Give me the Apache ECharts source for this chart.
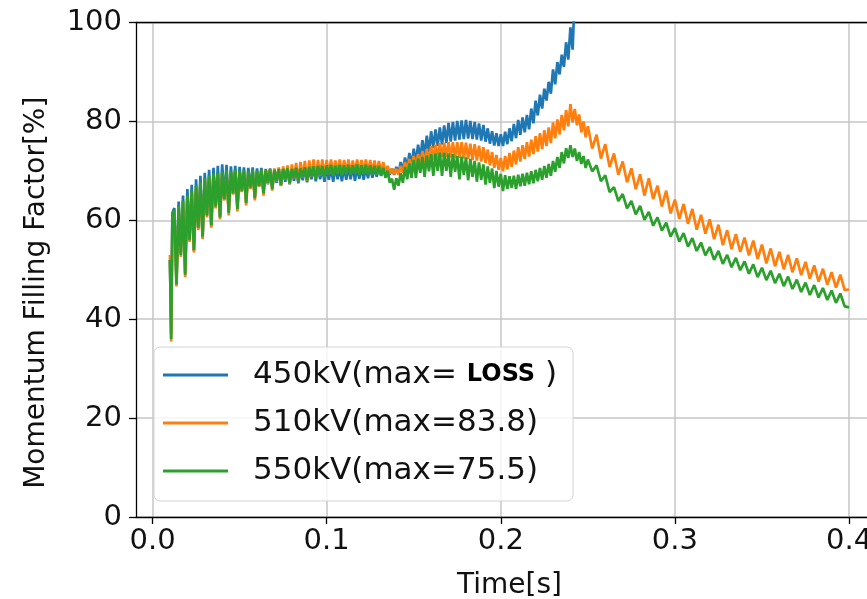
<!DOCTYPE html>
<html><head><meta charset="utf-8">
<script src="https://cdn.jsdelivr.net/npm/echarts@6/dist/echarts.min.js"></script>
<style>html,body{margin:0;padding:0;background:#fff}#c{width:867px;height:599px}</style>
</head><body><div id="c"></div>
<script>
// sample times [s]
const TIME = [
0.0100,0.0107,0.0114,
0.0125,0.01375,0.0150,0.01625,0.0175,0.01875,0.0200,0.02125,0.0225,0.02375,
0.0250,0.02625,0.0275,0.02875,0.0300,0.03125,0.0325,0.03375,0.0350,0.03625,
0.0375,0.03875,0.0400,0.04125,0.0425,0.04375,0.0450,0.04625,0.0475,0.04875,
0.0500,0.05125,0.0525,0.05375,0.0550,0.05625,0.0575,0.05875,0.0600,0.06125,
0.0625,0.06375,0.0650,0.06625,0.0675,0.06875,0.0700,0.07125,0.0725,0.07375,
0.0750,0.07625,0.0775,0.07875,0.0800,0.08125,0.0825,0.08375,0.0850,0.08625,
0.0875,0.08875,0.0900,0.09125,0.0925,0.09375,0.0950,0.09625,0.0975,0.09875,
0.1000,0.10125,0.1025,0.10375,0.1050,0.10625,0.1075,0.10875,0.1100,0.11125,
0.1125,0.11375,0.1150,0.11625,0.1175,0.11875,0.1200,0.12125,0.1225,0.12375,
0.1250,0.12625,0.1275,0.12875,0.1300,0.13125,0.1325,0.13375,0.1350,0.13625,
0.1375,0.13875,0.1400,0.14125,0.1425,0.14375,0.1450,0.14625,0.1475,0.14875,
0.1500,0.15125,0.1525,0.15375,0.1550,0.15625,0.1575,0.15875,0.1600,0.16125,
0.1625,0.16375,0.1650,0.16625,0.1675,0.16875,0.1700,0.17125,0.1725,0.17375,
0.1750,0.17625,0.1775,0.17875,0.1800,0.18125,0.1825,0.18375,0.1850,0.18625,
0.1875,0.18875,0.1900,0.19125,0.1925,0.19375,0.1950,0.19625,0.1975,0.19875,
0.2000,0.20125,0.2025,0.20375,0.2050,0.20625,0.2075,0.20875,0.2100,0.21125,
0.2125,0.21375,0.2150,0.21625,0.2175,0.21875,0.2200,0.22125,0.2225,0.22375,
0.2250,0.22625,0.2275,0.22875,0.2300,0.23125,0.2325,0.23375,0.2350,0.23625,
0.2375,0.23875,0.2400,0.24125,0.2425,0.24375,0.2450,0.24625,0.2475,0.24875,
0.2500,
0.2525,0.2550,0.2575,0.2600,0.2625,0.2650,0.2675,0.2700,0.2725,0.2750,
0.2775,0.2800,0.2825,0.2850,0.2875,0.2900,0.2925,0.2950,0.2975,0.3000,
0.3025,0.3050,0.3075,0.3100,0.3125,0.3150,0.3175,0.3200,0.3225,0.3250,
0.3275,0.3300,0.3325,0.3350,0.3375,0.3400,0.3425,0.3450,0.3475,0.3500,
0.3525,0.3550,0.3575,0.3600,0.3625,0.3650,0.3675,0.3700,0.3725,0.3750,
0.3775,0.3800,0.3825,0.3850,0.3875,0.3900,0.3925,0.3950,0.3975,0.4000
];
// 450kV momentum filling factor [%] (beam lost at ~0.241 s)
const V450 = [
52,37,61.5,
62.5,47.5,63.8,53.5,65.0,49.5,66.3,56.0,67.2,53.8,
68.3,58.3,69.0,56.5,69.6,61.0,70.2,58.8,70.6,62.6,
71.0,60.8,71.3,64.2,71.2,61.7,70.9,65.3,71.0,62.5,
70.8,65.8,70.7,63.8,70.6,66.4,70.7,64.8,70.5,66.8,
70.6,65.8,70.4,67.3,70.5,66.6,70.3,67.6,70.4,67.0,
70.3,67.8,70.4,67.3,70.2,68.0,70.5,67.5,70.4,68.1,
70.6,67.7,70.5,68.3,70.7,67.9,70.8,68.3,70.6,67.8,
70.8,68.2,70.7,67.8,70.9,68.3,70.6,67.9,70.8,68.2,
70.7,68.3,70.9,68.0,70.6,68.4,70.8,68.2,70.7,68.5,
70.9,68.6,70.7,68.8,70.8,69.0,70.7,69.2,70.5,69.2,
70.5,69.2,70.8,69.4,71.8,69.9,72.7,70.3,73.6,71.0,
74.5,71.6,75.3,72.3,76.2,73.0,77.1,73.8,78.0,74.6,
78.4,75.0,78.8,75.3,79.2,75.6,79.7,75.9,79.9,76.1,
80.1,76.3,80.2,76.4,80.3,76.5,80.1,76.4,79.9,76.3,
79.6,76.1,79.3,75.9,78.6,75.5,78.0,75.1,77.6,75.0,
77.4,75.0,77.9,75.4,78.6,76.0,79.5,76.6,80.3,77.3,
80.8,77.8,81.3,78.4,82.6,79.6,84.2,81.2,85.4,82.6,
86.6,84.2,88.0,85.6,90.5,87.5,92.0,89.5,93.5,91.0,
96.0,92.5,99.0,94.5,106
];
// 510kV
const V510 = [
53,35.5,60,
61.7,46.6,62.7,52.6,63.7,48.5,64.7,55.6,65.7,53.5,
66.7,58.0,67.5,56.2,68.2,60.6,68.7,58.5,69.1,62.4,
69.3,60.2,69.5,64.0,69.7,61.0,69.7,65.2,69.9,61.8,
69.8,65.7,69.9,63.0,69.7,66.3,69.9,64.0,69.9,66.8,
70.1,65.0,70.2,67.4,70.4,66.0,70.5,67.9,70.7,66.9,
70.9,68.2,71.1,67.3,71.3,68.5,71.6,67.7,71.8,68.7,
72.0,68.0,72.1,68.9,72.3,68.5,72.2,69.1,72.3,68.8,
72.2,69.4,72.3,69.2,72.1,69.6,72.3,69.3,72.2,69.6,
72.3,69.5,72.1,69.7,72.3,69.5,72.2,69.7,72.3,69.6,
72.2,69.7,72.1,69.6,72.0,69.7,71.8,69.6,71.0,69.4,
70.5,69.3,70.4,69.2,71.0,69.6,71.8,70.0,72.4,70.3,
73.0,70.6,73.4,71.0,74.0,71.5,74.4,71.9,75.0,72.3,
75.3,72.5,75.6,72.8,75.7,72.8,75.8,72.7,75.8,72.6,
75.8,72.6,75.8,72.5,75.7,72.4,75.5,72.2,75.4,72.1,
75.1,71.9,74.8,71.6,74.3,71.1,73.8,70.6,73.2,70.2,
72.6,69.9,73.0,70.3,73.6,70.8,74.1,71.3,74.8,71.9,
75.2,72.4,75.8,72.9,76.3,73.4,77.0,73.9,77.6,74.4,
78.2,75.0,78.8,75.6,79.8,76.6,80.4,77.4,81.3,78.2,
82.3,79.0,83.5,79.8,82.5,79.2,81.4,77.8,80.0,76.8,
79.0,
74.5,77.3,72.5,75.4,70.8,73.5,69.2,71.9,67.7,70.5,
66.3,69.3,65.0,68.5,64.3,67.0,62.8,66.0,61.4,64.2,
60.3,63.3,59.3,62.3,58.1,61.1,57.3,60.2,56.2,59.1,
55.0,58.0,54.2,57.2,53.6,56.5,52.9,55.9,52.2,55.1,
51.3,54.3,50.7,53.6,50.1,53.0,49.5,52.3,48.9,51.6,
48.2,50.9,47.6,50.2,47.0,49.5,46.4,49.0,45.9,46.0
];
// 550kV
const V550 = [
52,36,61,
62.0,47.0,63.0,53.0,64.0,49.0,65.0,56.0,66.0,54.0,
67.0,58.5,67.8,56.7,68.5,61.0,69.0,59.0,69.4,62.8,
69.6,60.6,69.8,64.3,70.1,61.5,69.9,65.5,70.2,62.3,
70.0,66.0,70.1,63.5,69.9,66.6,70.2,64.5,70.0,67.0,
70.2,65.5,70.1,67.6,70.3,66.3,70.2,68.0,70.4,67.2,
70.4,68.3,70.5,67.5,70.4,68.6,70.6,67.8,70.5,68.8,
70.7,68.1,70.8,69.0,70.9,68.4,71.0,69.2,71.0,68.6,
71.1,69.3,71.2,69.0,71.0,69.4,71.2,69.1,71.1,69.3,
71.2,69.2,71.1,69.4,71.3,69.2,71.1,69.4,71.2,69.3,
71.1,69.3,71.0,69.2,71.0,69.0,70.6,68.6,70.0,67.6,
68.4,66.2,68.5,67.0,69.5,67.6,70.8,68.3,71.5,68.6,
72.2,68.6,72.5,69.6,72.8,68.8,73.1,69.9,73.4,69.0,
73.5,70.0,73.7,69.0,73.7,70.0,73.5,68.8,73.4,69.8,
73.0,68.3,72.9,69.2,72.7,68.1,72.4,68.8,72.0,67.8,
71.7,68.2,71.3,67.2,70.9,67.6,70.5,66.5,70.0,66.8,
69.4,65.9,69.1,66.3,68.9,66.6,69.0,66.3,69.2,66.9,
69.4,67.0,69.6,67.3,69.9,67.5,70.2,67.9,70.6,68.2,
71.0,68.6,71.4,69.0,72.0,69.8,72.8,70.6,73.8,71.5,
74.6,72.6,75.2,72.8,74.5,72.0,73.8,71.4,73.0,70.6,
72.3,
69.9,71.1,67.9,69.1,65.7,66.7,63.9,65.3,62.4,63.9,
61.2,62.9,60.1,61.7,58.9,60.6,57.9,59.5,56.7,58.4,
55.7,57.4,54.7,56.4,53.8,55.5,52.9,54.6,52.0,53.8,
51.2,53.0,50.5,52.4,49.9,51.7,49.2,51.1,48.5,50.4,
47.9,49.8,47.3,49.2,46.7,48.6,46.1,48.0,45.5,47.4,
44.9,46.9,44.4,46.3,43.9,45.8,43.3,45.2,42.6,42.4
];
const X_TICKS = [0, 0.1, 0.2, 0.3, 0.4];
const Y_TICKS = [0, 20, 40, 60, 80, 100];
const SERIES_NAMES = ['450kV', '510kV', '550kV'];
const LEGEND_TEXT = {
  '450kV': '450kV(max= {b|LOSS} )',
  '510kV': '510kV(max=83.8)',
  '550kV': '550kV(max=75.5)'
};
const COLORS = ['#1f77b4', '#ff7f0e', '#2ca02c'];
const VALUES = [V450, V510, V550];

const FONT = 'DejaVu Sans';
const X_MIN = -0.0095, X_MAX = 0.4195;
function pairs(vals) { return vals.map(function (v, i) { return [TIME[i], v]; }); }

const chart = echarts.init(document.getElementById('c'), null, {renderer: 'canvas'});
chart.setOption({
  animation: false,
  backgroundColor: '#fff',
  grid: {left: 136, top: 22.5, width: 747, height: 494.5, show: false,
         containLabel: false, outerBoundsMode: 'none'},
  xAxis: [{
    type: 'value', min: X_MIN, max: X_MAX,
    name: 'Time[s]', nameLocation: 'middle', nameGap: 53,
    nameTextStyle: {fontFamily: FONT, fontSize: 28, color: '#111', lineHeight: 32},
    axisLine: {show: true, onZero: false, lineStyle: {color: '#000', width: 1.3}},
    axisTick: {show: true, length: 7, inside: false, customValues: X_TICKS,
               lineStyle: {color: '#000', width: 1.3}},
    axisLabel: {customValues: X_TICKS, fontFamily: FONT, fontSize: 29, color: '#111', margin: 10,
                formatter: function (v) { return v.toFixed(1); }},
    splitLine: {show: true, lineStyle: {color: '#c6c6c6', width: 1.5}}
  }, {
    type: 'value', min: X_MIN, max: X_MAX, position: 'top',
    axisLine: {show: true, onZero: false, lineStyle: {color: '#000', width: 1.3}},
    axisTick: {show: false}, axisLabel: {show: false}, splitLine: {show: false}
  }],
  yAxis: {
    type: 'value', min: Y_TICKS[0], max: Y_TICKS[Y_TICKS.length - 1], interval: 20,
    name: 'Momentum Filling Factor[%]', nameLocation: 'middle', nameGap: 84,
    nameTextStyle: {fontFamily: FONT, fontSize: 28, color: '#111', lineHeight: 30, padding: [0, 46, 0, 0]},
    axisLine: {show: true, onZero: false, lineStyle: {color: '#000', width: 1.3}},
    axisTick: {show: true, length: 7, lineStyle: {color: '#000', width: 1.3}},
    axisLabel: {fontFamily: FONT, fontSize: 29, color: '#111', margin: 14},
    splitLine: {show: true, lineStyle: {color: '#c6c6c6', width: 1.5}}
  },
  legend: {
    orient: 'vertical', left: 154, top: 347,
    padding: [10, 16, 12, 9], itemGap: 12,
    itemWidth: 65, itemHeight: 3, icon: 'rect',
    backgroundColor: 'rgba(255,255,255,0.8)', borderColor: '#d4d4d4', borderWidth: 1, borderRadius: 6,
    data: SERIES_NAMES,
    formatter: function (name) { return LEGEND_TEXT[name]; },
    textStyle: {fontFamily: FONT, fontSize: 31, color: '#111', lineHeight: 36, padding: [0, 0, 0, 20],
                rich: {b: {fontFamily: FONT, fontSize: 24, fontWeight: 'bold', color: '#000', lineHeight: 36}}}
  },
  series: SERIES_NAMES.map(function (n, k) {
    return {
      name: n, type: 'line', data: pairs(VALUES[k]), showSymbol: false, symbol: 'none',
      clip: true, smooth: false, sampling: null, xAxisIndex: 0,
      color: COLORS[k], lineStyle: {color: COLORS[k], width: 2.7}, z: 2 + k
    };
  })
});
</script></body></html>
